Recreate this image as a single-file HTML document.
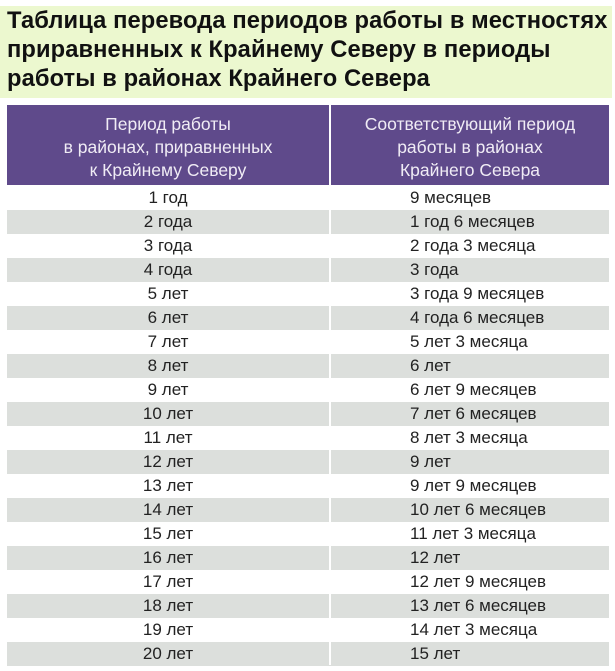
<!DOCTYPE html>
<html><head><meta charset="utf-8"><style>
body{margin:0;width:615px;height:671px;background:#fff;font-family:"Liberation Sans",sans-serif;position:relative;overflow:hidden}
.title{position:absolute;left:0;top:6px;width:612px;height:92px;background:#ecf8cf;}
.title div{position:absolute;left:7px;font-weight:bold;font-size:23.7px;color:#111;white-space:nowrap;letter-spacing:0.1px}
.hdr{position:absolute;top:105px;height:80px;background:#5f4a8b;color:#f0ecf5;font-size:17.5px;text-align:center;line-height:23px;padding-top:8px;box-sizing:border-box}
.row{position:absolute;left:7px;width:602px;height:24px;font-size:17px;color:#222;line-height:24px}
.row.g{background:#dcdfdc}
.row .a{position:absolute;left:0;width:322px;text-align:center}
.row .b{position:absolute;left:403px}
.vl{position:absolute;left:329px;top:185px;width:2px;height:480px;background:#fff}
</style></head><body>
<div class="title">
<div style="top:2px">Таблица перевода периодов работы в местностях</div>
<div style="top:31px">приравненных к Крайнему Северу в периоды</div>
<div style="top:60px">работы в районах Крайнего Севера</div>
</div>
<div class="hdr" style="left:7px;width:322px">Период работы<br>в районах, приравненных<br>к Крайнему Северу</div>
<div class="hdr" style="left:331px;width:278px">Соответствующий период<br>работы в районах<br>Крайнего Севера</div>
<div class="row" style="top:186px"><span class="a">1 год</span><span class="b">9 месяцев</span></div>
<div class="row g" style="top:210px"><span class="a">2 года</span><span class="b">1 год 6 месяцев</span></div>
<div class="row" style="top:234px"><span class="a">3 года</span><span class="b">2 года 3 месяца</span></div>
<div class="row g" style="top:258px"><span class="a">4 года</span><span class="b">3 года</span></div>
<div class="row" style="top:282px"><span class="a">5 лет</span><span class="b">3 года 9 месяцев</span></div>
<div class="row g" style="top:306px"><span class="a">6 лет</span><span class="b">4 года 6 месяцев</span></div>
<div class="row" style="top:330px"><span class="a">7 лет</span><span class="b">5 лет 3 месяца</span></div>
<div class="row g" style="top:354px"><span class="a">8 лет</span><span class="b">6 лет</span></div>
<div class="row" style="top:378px"><span class="a">9 лет</span><span class="b">6 лет 9 месяцев</span></div>
<div class="row g" style="top:402px"><span class="a">10 лет</span><span class="b">7 лет 6 месяцев</span></div>
<div class="row" style="top:426px"><span class="a">11 лет</span><span class="b">8 лет 3 месяца</span></div>
<div class="row g" style="top:450px"><span class="a">12 лет</span><span class="b">9 лет</span></div>
<div class="row" style="top:474px"><span class="a">13 лет</span><span class="b">9 лет 9 месяцев</span></div>
<div class="row g" style="top:498px"><span class="a">14 лет</span><span class="b">10 лет 6 месяцев</span></div>
<div class="row" style="top:522px"><span class="a">15 лет</span><span class="b">11 лет 3 месяца</span></div>
<div class="row g" style="top:546px"><span class="a">16 лет</span><span class="b">12 лет</span></div>
<div class="row" style="top:570px"><span class="a">17 лет</span><span class="b">12 лет 9 месяцев</span></div>
<div class="row g" style="top:594px"><span class="a">18 лет</span><span class="b">13 лет 6 месяцев</span></div>
<div class="row" style="top:618px"><span class="a">19 лет</span><span class="b">14 лет 3 месяца</span></div>
<div class="row g" style="top:642px"><span class="a">20 лет</span><span class="b">15 лет</span></div>
<div class="vl"></div>
</body></html>
